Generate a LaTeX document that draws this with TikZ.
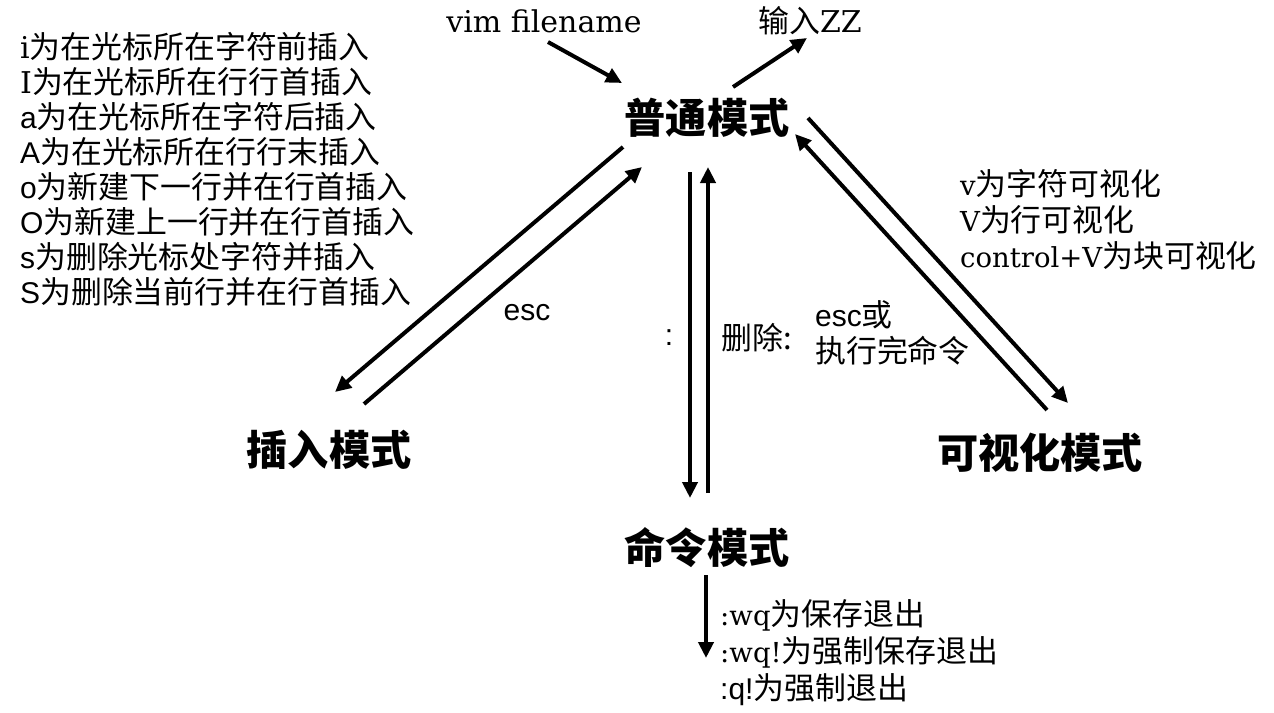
\documentclass[tikz,border=0pt]{standalone}
\usepackage{fontspec}
\setmainfont{DejaVu Serif}
\newfontfamily\cjk[Scale=1.03]{Noto Sans CJK SC}
\newfontfamily\lsans{Liberation Sans}
\usetikzlibrary{arrows.meta}
\newcommand\zh[1]{{\cjk #1}}
\newcommand\sa[1]{{\lsans #1}}
\newcommand\nl[1]{{\fontsize{27.5}{36}\selectfont #1}}
\begin{document}
\begin{tikzpicture}[x=1pt,y=-1pt,
  txt/.style={inner sep=0pt, font=\fontsize{30}{36}\selectfont, anchor=base west},
  ctxt/.style={txt, anchor=base},
  title/.style={inner sep=0pt, font=\fontsize{40}{48}\selectfont\cjk\bfseries, anchor=base},
  arr/.style={line width=4pt, -{Triangle[length=16pt,width=15pt]}}
]
\useasboundingbox (0,0) rectangle (1274,712);
\fill[white] (0,0) rectangle (1274,712);

% mode nodes
\node[title] (normal) at (707,133) {普通模式};
\node[title] (insert) at (329,465) {插入模式};
\node[title] (visual) at (1040,468) {可视化模式};
\node[title] (command) at (707,563) {命令模式};

% top labels
\node[ctxt] (vim) at (544,32) {vim filename};
\node[txt] (zz) at (758,32) {\zh{输入}ZZ};

% left list
\node[txt] (l1) at (20,58) {i\zh{为在光标所在字符前插入}};
\node[txt] (l2) at (20,93) {I\zh{为在光标所在行行首插入}};
\node[txt] (l3) at (20,128) {\sa{a}\zh{为在光标所在字符后插入}};
\node[txt] (l4) at (20,163) {\sa{A}\zh{为在光标所在行行末插入}};
\node[txt] (l5) at (20,198) {\sa{o}\zh{为新建下一行并在行首插入}};
\node[txt] (l6) at (20,233) {\sa{O}\zh{为新建上一行并在行首插入}};
\node[txt] (l7) at (20,268) {\sa{s}\zh{为删除光标处字符并插入}};
\node[txt] (l8) at (20,303) {\sa{S}\zh{为删除当前行并在行首插入}};

% right list
\node[txt] (r1) at (960,195) {\nl{v}\zh{为字符可视化}};
\node[txt] (r2) at (960,231) {\nl{V}\zh{为行可视化}};
\node[txt] (r3) at (960,267) {\nl{control+V}\zh{为块可视化}};

% middle labels
\node[ctxt] (esc) at (527,320) {\sa{esc}};
\node[ctxt] (colon) at (669,345) {\sa{:}};
\node[txt] (del) at (721,349) {\zh{删除:}};
\node[txt] (esc2) at (815,326) {\sa{esc}\zh{或}};
\node[txt] (exec) at (815,362) {\zh{执行完命令}};

% bottom list
\node[txt] (b1) at (720,625) {\nl{:wq}\zh{为保存退出}};
\node[txt] (b2) at (720,662) {\nl{:wq!}\zh{为强制保存退出}};
\node[txt] (b3) at (720,699) {\sa{:q!}\zh{为强制退出}};

% arrow endpoints
\coordinate (vimA) at (548,42);   \coordinate (vimB) at (622,83);
\coordinate (zzA) at (733,87);    \coordinate (zzB) at (807,38);
\coordinate (niA) at (623,147);   \coordinate (niB) at (335,392);
\coordinate (inA) at (364,404);   \coordinate (inB) at (642,167);
\coordinate (ncA) at (690,172);   \coordinate (ncB) at (690,498);
\coordinate (cnA) at (708,493);   \coordinate (cnB) at (708,167);
\coordinate (nvA) at (808,118);   \coordinate (nvB) at (1068,403);
\coordinate (vnA) at (1047,410);  \coordinate (vnB) at (795,134);
\coordinate (cxA) at (706,575);   \coordinate (cxB) at (706,658);

\draw[arr] (vimA) -- (vimB);
\draw[arr] (zzA) -- (zzB);
\draw[arr] (niA) -- (niB);
\draw[arr] (inA) -- (inB);
\draw[arr] (ncA) -- (ncB);
\draw[arr] (cnA) -- (cnB);
\draw[arr] (nvA) -- (nvB);
\draw[arr] (vnA) -- (vnB);
\draw[arr] (cxA) -- (cxB);
\end{tikzpicture}
\end{document}
